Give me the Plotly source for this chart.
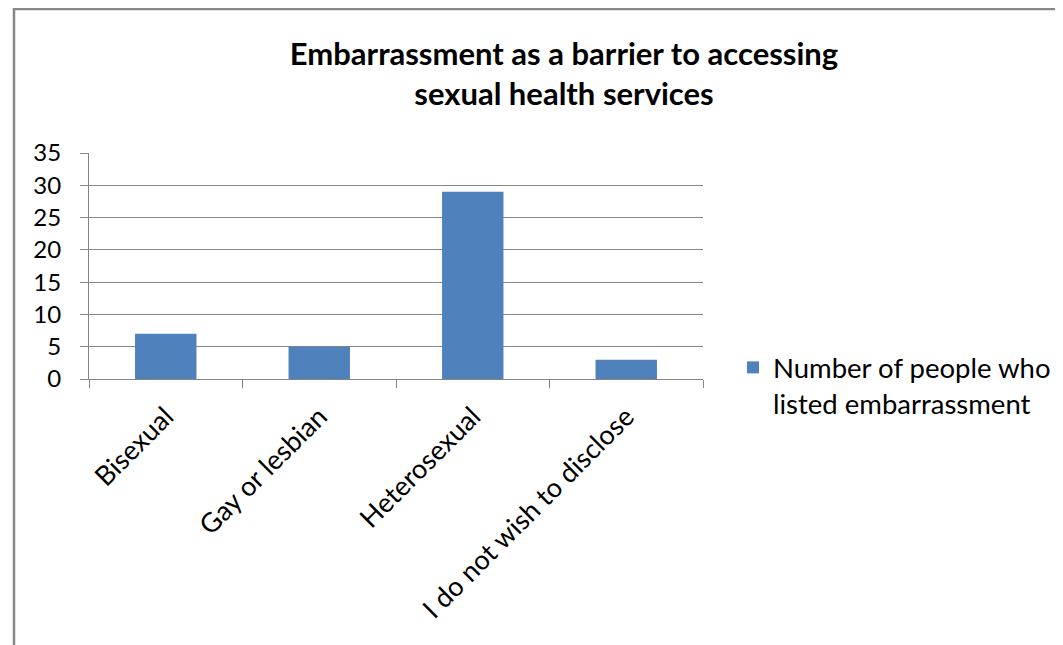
import plotly.graph_objects as go

categories = ["Bisexual", "Gay or lesbian", "Heterosexual", "I do not wish to disclose"]
counts = [7, 5, 29, 3]
series_name = "Number of people who<br>listed embarrassment"
title_text = "Embarrassment as a barrier to accessing<br>sexual health services"
y_ticks = [0, 5, 10, 15, 20, 25, 30, 35]

# page body adds an 8px margin, so coordinates below are picture minus 8;
# the figure is a little wider than the window so the legend never squeezes the plot
W, H = 1090, 645
L, T, B = 81, 145, 274
R = W - 695
plot_w = W - L - R
plot_h = H - T - B

fig = go.Figure()
fig.add_trace(go.Bar(
    x=categories,
    y=counts,
    name=series_name,
    marker=dict(color="#4F81BD", line=dict(width=0)),
    showlegend=True,
))

grid = "#868686"
fig.update_layout(
    width=W, height=H,
    margin=dict(l=L, r=R, t=T, b=B),
    paper_bgcolor="white",
    plot_bgcolor="white",
    font=dict(family="Lato", size=24, color="black"),
    title=dict(
        text=title_text,
        x=556 / W, xanchor="center",
        y=1 - 57 / H, yanchor="top",
        font=dict(family="Lato", size=31, color="black", weight="bold"),
    ),
    bargap=0.6,
    showlegend=True,
    legend=dict(
        x=(725 - L) / plot_w, xanchor="left",
        y=(H - B - 335) / plot_h, yanchor="top",
        valign="top",
        font=dict(size=27.5),
        bgcolor="rgba(0,0,0,0)",
    ),
    xaxis=dict(
        type="category",
        tickangle=-45,
        tickfont=dict(size=27),
        ticklabelstandoff=10,
        showline=True, linecolor=grid, linewidth=1.2,
        ticks="outside", tickson="boundaries", ticklen=8, tickcolor=grid, tickwidth=1.2,
        showgrid=False,
    ),
    yaxis=dict(
        range=[0, 35],
        tickvals=y_ticks,
        ticklabelstandoff=14,
        showline=True, linecolor=grid, linewidth=1.2,
        ticks="outside", ticklen=8, tickcolor=grid, tickwidth=1.2,
        showgrid=True, gridcolor=grid, gridwidth=1.2,
        zeroline=False,
    ),
    shapes=[dict(
        type="rect", xref="paper", yref="paper",
        x0=(6 - L) / plot_w, x1=(W + 20 - L) / plot_w,
        y0=-(H + 20 - (H - B)) / plot_h, y1=(H - B - 1) / plot_h,
        line=dict(color="#878787", width=2.5),
        fillcolor="rgba(0,0,0,0)",
        layer="below",
    )],
)

fig.write_html("out.html")
